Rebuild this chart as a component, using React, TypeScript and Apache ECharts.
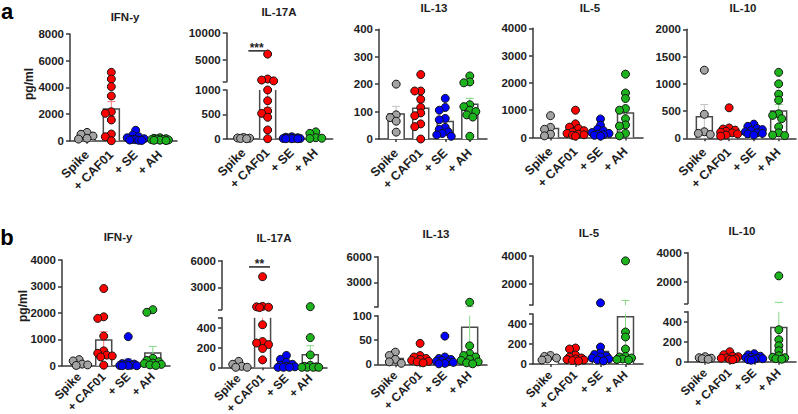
import React, { useEffect, useRef } from 'react';
import * as echarts from 'echarts';

// ---------- categories & colours ----------
const groups = ['Spike', '+ CAF01', '+ SE', '+ AH'];
const fillColors = ['#a3a3a3', '#ff0000', '#0000ff', '#1db31d'];
const errColors = ['#c2c2c2', '#ff7c7c', '#8080ff', '#86d886'];

// ---------- panel a (pg/ml) ----------
const aIFNg = [
  [620, 480, 350, 180, 120],
  [5120, 4620, 4050, 3350, 2170, 2050, 1550, 500, 300, 0],
  [780, 420, 300, 220, 150, 100, 80, 50, 30, 20],
  [220, 180, 150, 120, 100, 80, 60, 40, 30, 10],
];
const aIFNgMean = [350, 2370, 215, 100];
const aIFNgSem = [90, 560, 75, 20];

const aIL17A = [
  [25, 15, 10, 5, 0],
  [6100, 1500, 1300, 1150, 1000, 780, 570, 520, 440, 180, 0],
  [40, 30, 20, 15, 10, 5, 5, 0, 0, 0],
  [140, 110, 20, 10, 5],
];
const aIL17AMean = [11, 1230, 12, 57];
const aIL17ASem = [4, 590, 4, 28];

const aIL13 = [
  [200, 88, 78, 65, 25],
  [235, 175, 175, 145, 115, 95, 85, 55, 45, 0],
  [148, 115, 105, 75, 70, 42, 35, 26, 20, 15, 10],
  [230, 208, 205, 125, 118, 105, 100, 88, 80, 10],
];
const aIL13Mean = [91, 112, 64, 127];
const aIL13Sem = [28, 22, 14, 21];

const aIL5 = [
  [800, 370, 300, 120, 60],
  [1000, 500, 380, 330, 250, 200, 150, 120, 100, 80, 50],
  [680, 450, 300, 250, 180, 150, 120, 100, 80, 50],
  [2320, 1630, 1430, 1060, 1000, 690, 460, 420, 150, 60],
];
const aIL5Mean = [330, 287, 236, 900];
const aIL5Sem = [130, 80, 62, 230];

const aIL10 = [
  [1250, 440, 120, 90, 70],
  [560, 190, 170, 150, 130, 110, 100, 80, 60, 40],
  [260, 220, 180, 160, 140, 120, 100, 90, 80, 60],
  [1210, 1000, 810, 700, 450, 420, 360, 210, 100, 60, 50],
];
const aIL10Mean = [394, 159, 141, 500];
const aIL10Sem = [225, 45, 20, 120];

// ---------- panel b (pg/ml) ----------
const bIFNg = [
  [230, 180, 60, 30, 10],
  [2920, 1850, 1790, 1120, 560, 470, 400, 370, 330, 20],
  [1100, 120, 80, 60, 40, 20, 10, 5, 0, 0],
  [2120, 2020, 280, 200, 150, 100, 80, 50, 30, 10],
];
const bIFNgMean = [102, 975, 144, 480];
const bIFNgSem = [45, 310, 107, 250];

const bIL17A = [
  [60, 30, 10, 0, 0],
  [4200, 850, 800, 760, 720, 430, 260, 245, 230, 190, 75],
  [120, 80, 50, 30, 20, 10, 5, 0, 0, 0],
  [820, 300, 125, 20, 10, 5, 0, 0, 0, 0],
];
const bIL17AMean = [20, 778, 32, 128];
const bIL17ASem = [11, 350, 13, 90];

const bIL13 = [
  [25, 18, 10, 5, 2],
  [43, 18, 15, 12, 10, 8, 6, 5, 3],
  [58, 15, 12, 10, 8, 6, 5, 4, 2, 1],
  [650, 38, 22, 18, 15, 10, 8, 5, 3, 1],
];
const bIL13Mean = [12, 13, 12, 76];
const bIL13Sem = [4, 4, 5, 64];

const bIL5 = [
  [85, 75, 60, 50, 40],
  [160, 150, 90, 70, 60, 50, 45, 40, 35, 30],
  [650, 170, 110, 95, 80, 70, 60, 50, 40, 30],
  [3650, 320, 270, 150, 75, 70, 60, 50, 45, 40],
];
const bIL5Mean = [62, 73, 125, 473];
const bIL5Sem = [8, 15, 58, 355];

const bIL10 = [
  [50, 40, 35, 30, 25],
  [100, 70, 55, 50, 40, 35, 30, 25, 20],
  [80, 70, 55, 45, 40, 35, 30, 25, 20, 15],
  [2400, 320, 220, 160, 110, 60, 45, 40, 30, 25],
];
const bIL10Mean = [36, 47, 42, 341];
const bIL10Sem = [4, 8, 6, 230];

// ---------- layout ----------
type Seg = { min: number; max: number; top: number; bottom: number; ticks: number[]; labels: number[] };
type Sig = { x1: number; x2: number; y: number; text: string };
type Panel = {
  title: string; tx: number; ty: number; left: number; right: number; row: 'a' | 'b';
  lower: Seg; upper?: Seg; pts: number[][]; mean: number[]; sem: number[]; sig?: Sig;
};

const panels: Panel[] = [
  { title: 'IFN-y', tx: 125, ty: 16.5, left: 70, right: 177, row: 'a',
    lower: { min: 0, max: 8000, top: 33.9, bottom: 140.7, ticks: [0, 2000, 4000, 6000, 8000], labels: [0, 2000, 4000, 6000, 8000] },
    pts: aIFNg, mean: aIFNgMean, sem: aIFNgSem },
  { title: 'IL-17A', tx: 279, ty: 12, left: 226.7, right: 332.7, row: 'a',
    lower: { min: 0, max: 1000, top: 90, bottom: 138.7, ticks: [0, 500, 1000], labels: [0, 500, 1000] },
    upper: { min: 1000, max: 10000, top: 33, bottom: 81.7, ticks: [1000, 5000, 10000], labels: [5000, 10000] },
    pts: aIL17A, mean: aIL17AMean, sem: aIL17ASem, sig: { x1: 0.2, x2: 0.89, y: 6700, text: '***' } },
  { title: 'IL-13', tx: 434, ty: 7.5, left: 379, right: 487, row: 'a',
    lower: { min: 0, max: 400, top: 29.3, bottom: 139, ticks: [0, 100, 200, 300, 400], labels: [0, 100, 200, 300, 400] },
    pts: aIL13, mean: aIL13Mean, sem: aIL13Sem },
  { title: 'IL-5', tx: 590, ty: 7.5, left: 533, right: 643, row: 'a',
    lower: { min: 0, max: 4000, top: 28.3, bottom: 137.5, ticks: [0, 1000, 2000, 3000, 4000], labels: [0, 1000, 2000, 3000, 4000] },
    pts: aIL5, mean: aIL5Mean, sem: aIL5Sem },
  { title: 'IL-10', tx: 743, ty: 7.5, left: 687, right: 796, row: 'a',
    lower: { min: 0, max: 2000, top: 29.3, bottom: 138.3, ticks: [0, 500, 1000, 1500, 2000], labels: [0, 500, 1000, 1500, 2000] },
    pts: aIL10, mean: aIL10Mean, sem: aIL10Sem },
  { title: 'IFN-y', tx: 118, ty: 237, left: 62, right: 170, row: 'b',
    lower: { min: 0, max: 4000, top: 260, bottom: 365.7, ticks: [0, 1000, 2000, 3000, 4000], labels: [0, 1000, 2000, 3000, 4000] },
    pts: bIFNg, mean: bIFNgMean, sem: bIFNgSem },
  { title: 'IL-17A', tx: 274, ty: 238, left: 222, right: 327, row: 'b',
    lower: { min: 0, max: 500, top: 317.8, bottom: 367.3, ticks: [0, 200, 400, 500], labels: [0, 200, 400] },
    upper: { min: 500, max: 6000, top: 260.7, bottom: 309.5, ticks: [500, 3000, 6000], labels: [3000, 6000] },
    pts: bIL17A, mean: bIL17AMean, sem: bIL17ASem, sig: { x1: 0.43, x2: 1.31, y: 5300, text: '**' } },
  { title: 'IL-13', tx: 436, ty: 233.5, left: 378, right: 487, row: 'b',
    lower: { min: 0, max: 100, top: 315.7, bottom: 364.3, ticks: [0, 50, 100], labels: [0, 50, 100] },
    upper: { min: 100, max: 6000, top: 256.7, bottom: 307, ticks: [100, 3000, 6000], labels: [3000, 6000] },
    pts: bIL13, mean: bIL13Mean, sem: bIL13Sem },
  { title: 'IL-5', tx: 589, ty: 233, left: 533, right: 643, row: 'b',
    lower: { min: 0, max: 500, top: 314, bottom: 364, ticks: [0, 200, 400, 500], labels: [0, 200, 400] },
    upper: { min: 500, max: 4000, top: 256, bottom: 305, ticks: [500, 2000, 4000], labels: [2000, 4000] },
    pts: bIL5, mean: bIL5Mean, sem: bIL5Sem },
  { title: 'IL-10', tx: 742, ty: 230.5, left: 688, right: 796, row: 'b',
    lower: { min: 0, max: 500, top: 311.7, bottom: 361.7, ticks: [0, 200, 400, 500], labels: [0, 200, 400] },
    upper: { min: 500, max: 4000, top: 252.7, bottom: 303.4, ticks: [500, 2000, 4000], labels: [2000, 4000] },
    pts: bIL10, mean: bIL10Mean, sem: bIL10Sem },
];

const FONT = 'Arial, "Liberation Sans", Helvetica, sans-serif';
const AXIS_COLOR = '#3a3a3a';
const TEXT_COLOR = '#1e1e1e';
const X_MIN = -0.7;
const X_MAX = 3.7;

function segOf(p: Panel, v: number): Seg {
  return p.upper && v > p.lower.max ? p.upper : p.lower;
}
function pxY(p: Panel, v: number): number {
  const s = segOf(p, v);
  return s.bottom - ((v - s.min) / (s.max - s.min)) * (s.bottom - s.top);
}
// deterministic beeswarm layout (pixel offsets), allowing overlap like the reference
function swarm(p: Panel, vals: number[]): number[] {
  const order = vals.map((_, i) => i).sort((a, b) => vals[b] - vals[a]);
  const placed: { x: number; y: number }[] = [];
  const res = new Array(vals.length).fill(0);
  const cands = [0, -3, 3, -6, 6, -8.5, 8.5];
  const minD = 5;
  for (const i of order) {
    const y = pxY(p, vals[i]);
    let best = 0;
    let bestD = -1;
    for (const c of cands) {
      const d = placed.reduce((acc, q) => Math.min(acc, Math.hypot(q.x - c, q.y - y)), Infinity);
      if (d >= minD) { best = c; bestD = Infinity; break; }
      if (d > bestD) { bestD = d; best = c; }
    }
    placed.push({ x: best, y });
    res[i] = best;
  }
  return res;
}

function buildOption() {
  const grid: any[] = [];
  const xAxis: any[] = [];
  const yAxis: any[] = [];
  const series: any[] = [];
  const graphic: any[] = [];
  const lineStyle = { color: AXIS_COLOR, width: 1.5 };
  const labelFont = { fontFamily: FONT, fontWeight: 'bold', fontSize: 11.5, color: TEXT_COLOR };

  panels.forEach((p) => {
    const u = (p.right - p.left) / (X_MAX - X_MIN);
    const segs = p.upper ? [p.lower, p.upper] : [p.lower];
    const offs = p.pts.map((vals) => swarm(p, vals));
    segs.forEach((s) => {
      const gi = grid.length;
      const isLower = s === p.lower;
      grid.push({ left: p.left, top: s.top, width: p.right - p.left, height: s.bottom - s.top, outerBoundsMode: 'none', containLabel: false });
      xAxis.push({
        type: 'value', gridIndex: gi, min: X_MIN, max: X_MAX,
        axisLine: { show: isLower, onZero: false, lineStyle },
        axisTick: { show: false }, axisLabel: { show: false }, splitLine: { show: false },
      });
      yAxis.push({
        type: 'value', gridIndex: gi, min: s.min, max: s.max,
        axisLine: { show: true, onZero: false, lineStyle },
        axisTick: { show: true, length: 4, lineStyle, customValues: s.ticks },
        axisLabel: { ...labelFont, margin: 6, customValues: s.labels, formatter: (v: number) => String(v) },
        splitLine: { show: false },
      });
      // bars (mean) with SEM error bars
      series.push({
        type: 'custom', xAxisIndex: gi, yAxisIndex: gi, silent: true, z: 2,
        data: p.mean.map((m, i) => [i, m, p.sem[i]]),
        renderItem: (params: any, api: any) => {
          const i = api.value(0);
          const m = api.value(1);
          const e = api.value(2);
          const cs = params.coordSys;
          const top = cs.y;
          const bot = cs.y + cs.height;
          const cx = api.coord([i, 0])[0];
          const ym = api.coord([i, m])[1];
          const hw = 8;
          const children: any[] = [];
          if (ym < bot - 0.1) {
            const yt = Math.max(top, ym);
            children.push({ type: 'rect', shape: { x: cx - hw, y: yt, width: 2 * hw, height: bot - yt }, style: { fill: '#ffffff' } });
            if (ym >= top) {
              children.push({ type: 'polyline', shape: { points: [[cx - hw, bot], [cx - hw, ym], [cx + hw, ym], [cx + hw, bot]] }, style: { stroke: '#4a4a4a', lineWidth: 1.5, fill: 'none' } });
            } else {
              children.push({ type: 'line', shape: { x1: cx - hw, y1: top, x2: cx - hw, y2: bot }, style: { stroke: '#4a4a4a', lineWidth: 1.5 } });
              children.push({ type: 'line', shape: { x1: cx + hw, y1: top, x2: cx + hw, y2: bot }, style: { stroke: '#4a4a4a', lineWidth: 1.5 } });
            }
          }
          const y1 = api.coord([i, m + e])[1];
          const y2 = api.coord([i, Math.max(0, m - e)])[1];
          const a = Math.max(top, Math.min(bot, y1));
          const b = Math.max(top, Math.min(bot, y2));
          const ec = errColors[i];
          if (b > a) children.push({ type: 'line', shape: { x1: cx, y1: a, x2: cx, y2: b }, style: { stroke: ec, lineWidth: 1 } });
          if (y1 >= top && y1 <= bot) children.push({ type: 'line', shape: { x1: cx - 4, y1, x2: cx + 4, y2: y1 }, style: { stroke: ec, lineWidth: 1 } });
          if (m - e > 0 && y2 >= top && y2 <= bot) children.push({ type: 'line', shape: { x1: cx - 4, y1: y2, x2: cx + 4, y2 }, style: { stroke: ec, lineWidth: 1 } });
          return { type: 'group', children };
        },
      });
      // individual points
      p.pts.forEach((vals, g) => {
        const data = vals
          .map((v, k) => [g + offs[g][k] / u, v])
          .filter((d) => segOf(p, d[1]) === s);
        series.push({
          type: 'scatter', xAxisIndex: gi, yAxisIndex: gi, silent: true, z: 4, clip: false,
          symbol: 'circle', symbolSize: 8, data,
          itemStyle: { color: fillColors[g], borderColor: '#151515', borderWidth: 1, opacity: 1 },
        });
      });
      // significance bracket
      if (p.sig && s === segs[segs.length - 1]) {
        const sig = p.sig;
        series.push({
          type: 'custom', xAxisIndex: gi, yAxisIndex: gi, silent: true, z: 5,
          data: [[sig.x1, sig.x2, sig.y]],
          renderItem: (_params: any, api: any) => {
            const pa = api.coord([api.value(0), api.value(2)]);
            const pb = api.coord([api.value(1), api.value(2)]);
            return {
              type: 'group',
              children: [
                { type: 'line', shape: { x1: pa[0], y1: pa[1], x2: pb[0], y2: pb[1] }, style: { stroke: '#222', lineWidth: 1.5 } },
                { type: 'text', x: (pa[0] + pb[0]) / 2, y: pa[1] - 3, style: { text: sig.text, fontFamily: FONT, fontWeight: 'bold', fontSize: 12, fill: '#222', align: 'center', verticalAlign: 'middle' } },
              ],
            };
          },
        });
      }
    });
    // category labels
    const gl = grid.length;
    const isA = p.row === 'a';
    grid.push({ left: p.left + 0.2 * u, top: p.lower.top, width: 4 * u, height: p.lower.bottom - p.lower.top, outerBoundsMode: 'none', containLabel: false });
    xAxis.push({
      type: 'category', gridIndex: gl, data: groups,
      axisLine: { show: false, onZero: false },
      axisTick: { show: true, alignWithLabel: true, length: 3, lineStyle },
      axisLabel: { ...labelFont, fontSize: isA ? 12.5 : 12, rotate: 45, margin: isA ? 12 : 9, interval: 0 },
      splitLine: { show: false },
    });
    yAxis.push({ type: 'value', gridIndex: gl, show: false, min: 0, max: 1 });
    // title
    graphic.push({ type: 'text', x: p.tx, y: p.ty, style: { text: p.title, fontFamily: FONT, fontWeight: 'bold', fontSize: 11.5, fill: TEXT_COLOR, align: 'center', verticalAlign: 'middle' } });
  });

  graphic.push({ type: 'text', x: 29, y: 84, rotation: Math.PI / 2, style: { text: 'pg/ml', fontFamily: FONT, fontWeight: 'bold', fontSize: 12, fill: TEXT_COLOR, align: 'center', verticalAlign: 'middle' } });
  graphic.push({ type: 'text', x: 22.5, y: 306, rotation: Math.PI / 2, style: { text: 'pg/ml', fontFamily: FONT, fontWeight: 'bold', fontSize: 12, fill: TEXT_COLOR, align: 'center', verticalAlign: 'middle' } });
  graphic.push({ type: 'text', x: 7, y: 11, style: { text: 'a', fontFamily: FONT, fontWeight: 'bold', fontSize: 22, fill: '#000', align: 'center', verticalAlign: 'middle' } });
  graphic.push({ type: 'text', x: 7, y: 237, style: { text: 'b', fontFamily: FONT, fontWeight: 'bold', fontSize: 22, fill: '#000', align: 'center', verticalAlign: 'middle' } });

  return { animation: false, backgroundColor: '#ffffff', grid, xAxis, yAxis, series, graphic };
}

export default function App() {
  const ref = useRef<HTMLDivElement>(null);
  useEffect(() => {
    if (!ref.current) return;
    const chart = echarts.init(ref.current, undefined, { renderer: 'svg' });
    chart.setOption(buildOption() as any);
    return () => chart.dispose();
  }, []);
  return <div ref={ref} style={{ position: 'fixed', left: 0, top: 0, width: 798, height: 414, background: '#fff' }} />;
}
